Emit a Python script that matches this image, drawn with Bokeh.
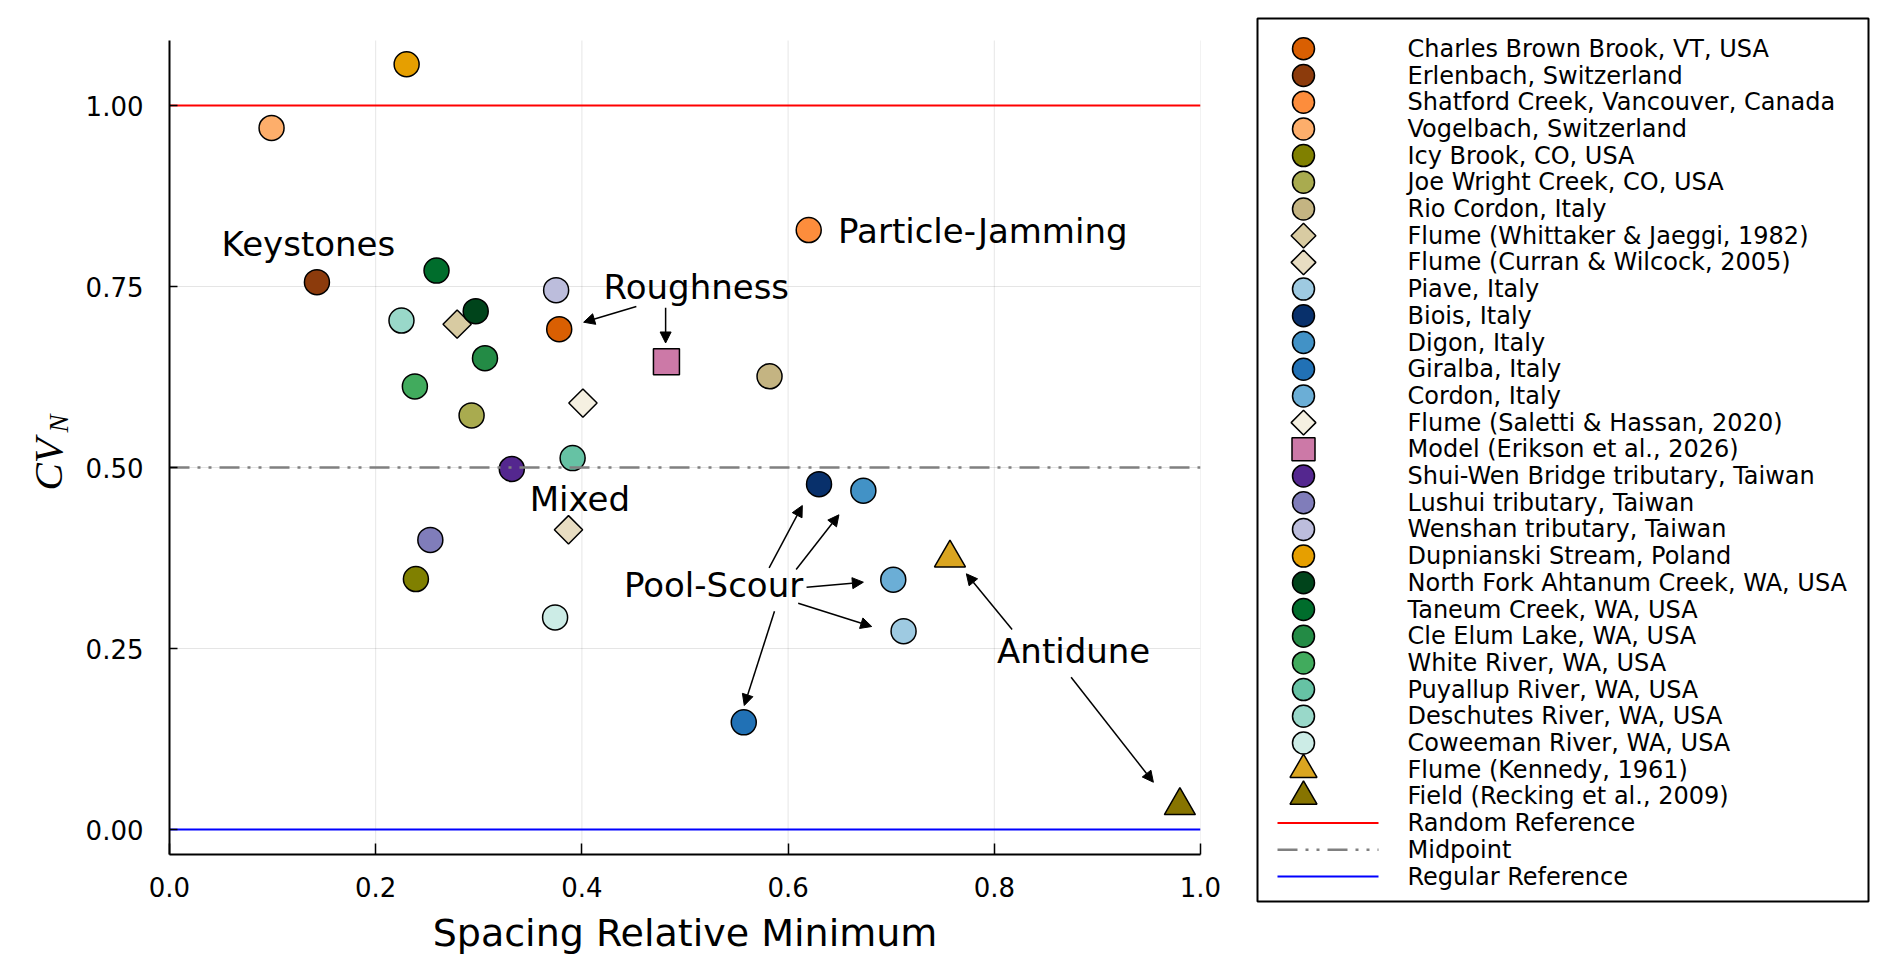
import numpy as np
from bokeh.plotting import figure
from bokeh.layouts import row
from bokeh.models import (Range1d, FixedTicker, Arrow, NormalHead,
                          ColumnDataSource)
from bokeh.embed import file_html
from bokeh.resources import INLINE
from bokeh.core.properties import value

# ---------------- data ----------------
series_names = [
    "Charles Brown Brook, VT, USA", "Erlenbach, Switzerland",
    "Shatford Creek, Vancouver, Canada", "Vogelbach, Switzerland",
    "Icy Brook, CO, USA", "Joe Wright Creek, CO, USA", "Rio Cordon, Italy",
    "Flume (Whittaker & Jaeggi, 1982)", "Flume (Curran & Wilcock, 2005)",
    "Piave, Italy", "Biois, Italy", "Digon, Italy", "Giralba, Italy",
    "Cordon, Italy", "Flume (Saletti & Hassan, 2020)",
    "Model (Erikson et al., 2026)", "Shui-Wen Bridge tributary, Taiwan",
    "Lushui tributary, Taiwan", "Wenshan tributary, Taiwan",
    "Dupnianski Stream, Poland", "North Fork Ahtanum Creek, WA, USA",
    "Taneum Creek, WA, USA", "Cle Elum Lake, WA, USA", "White River, WA, USA",
    "Puyallup River, WA, USA", "Deschutes River, WA, USA",
    "Coweeman River, WA, USA", "Flume (Kennedy, 1961)",
    "Field (Recking et al., 2009)",
]
series_x = [0.378, 0.143, 0.620, 0.099, 0.239, 0.293, 0.582, 0.279, 0.387,
            0.712, 0.630, 0.673, 0.557, 0.702, 0.401, 0.482, 0.332, 0.253,
            0.375, 0.230, 0.297, 0.259, 0.306, 0.238, 0.391, 0.225, 0.374,
            0.757, 0.980]
series_y = [0.691, 0.756, 0.828, 0.969, 0.346, 0.572, 0.626, 0.698, 0.414,
            0.274, 0.477, 0.468, 0.148, 0.345, 0.589, 0.646, 0.498, 0.400,
            0.745, 1.057, 0.716, 0.772, 0.651, 0.612, 0.513, 0.703, 0.293,
            0.375, 0.033]
series_marker = ["circle"] * 7 + ["diamond", "diamond"] + ["circle"] * 5 + \
    ["diamond", "square"] + ["circle"] * 11 + ["triangle", "triangle"]
series_color = [
    "#D95F02", "#8C3B0C", "#FD8D3C", "#FDAE6B", "#808000", "#A9AB4F",
    "#C4B482", "#D8CBA2", "#E8DDC2", "#9ECAE1", "#08306B", "#4292C6",
    "#2171B5", "#6BAED6", "#F5F0E1", "#CC79A7", "#54278F", "#807DBA",
    "#BCBDDC", "#E69F00", "#00441B", "#006D2C", "#238B45", "#41AB5D",
    "#66C2A4", "#99D8C9", "#CCECE6", "#DAA520", "#877400",
]

ref_names = ["Random Reference", "Midpoint", "Regular Reference"]
ref_values = [1.0, 0.5, 0.0]
ref_colors = ["#FF0000", "#808080", "#0000FF"]
ref_dash = ["solid", "20 8 3 8 3 8", "solid"]
ref_widths = [2, 2.5, 2]

ann_text = ["Keystones", "Roughness", "Particle-Jamming", "Mixed",
            "Pool-Scour", "Antidune"]
ann_x = [0.1347, 0.511, 0.6485, 0.398, 0.5277, 0.877]
ann_y = [0.809, 0.749, 0.827, 0.457, 0.338, 0.247]
ann_align = ["center", "center", "left", "center", "center", "center"]

arrow_x0 = [0.4528, 0.4812, 0.5816, 0.6078, 0.6179, 0.6098, 0.5868, 0.8173, 0.8745]
arrow_y0 = [0.7224, 0.7206, 0.3614, 0.3591, 0.3347, 0.3126, 0.3015, 0.2762, 0.2104]
arrow_x1 = [0.4017, 0.4812, 0.6138, 0.6493, 0.6730, 0.6811, 0.5575, 0.7729, 0.9543]
arrow_y1 = [0.7007, 0.6720, 0.4475, 0.4347, 0.3416, 0.2804, 0.1713, 0.3532, 0.0653]

x_ticks = [0.0, 0.2, 0.4, 0.6, 0.8, 1.0]
x_tick_labels = ["0.0", "0.2", "0.4", "0.6", "0.8", "1.0"]
y_ticks = [0.0, 0.25, 0.5, 0.75, 1.0]
y_tick_labels = ["0.00", "0.25", "0.50", "0.75", "1.00"]

x_min, x_max = 0.0, 1.0
y_min, y_max = -0.0345, 1.0898

x_label = "Spacing Relative Minimum"
y_label_main, y_label_sub = "CV", "N"

FONT = "DejaVu Sans"

# ---------------- page layout (pixels) ----------------
TOP = 18            # common top border of all panels (legend box top)
AX_TOP = 40         # top of the axes area
AX_BOTTOM = 854     # x-axis position
BOTTOM_BORDER = 112
ylab_w = 80
frame_h = AX_BOTTOM - TOP
px_per_unit = (AX_BOTTOM - AX_TOP) / (y_max - y_min)
y_range_top = y_max + (AX_TOP - TOP) / px_per_unit

# marker styles (plot and legend sizes)
marker_kind = {"circle": ("circle", 0.0), "diamond": ("square", np.pi / 4),
               "square": ("square", 0.0), "triangle": ("triangle", 0.0)}
plot_size = {"circle": 25, "diamond": 20, "square": 26, "triangle": 31}
leg_size = {"circle": 22, "diamond": 17.5, "square": 23, "triangle": 27}


def blank(fig):
    fig.axis.visible = False
    fig.grid.visible = False
    fig.outline_line_color = None
    fig.background_fill_color = "white"
    fig.border_fill_color = "white"


# ---------------- y-label strip ----------------
yl = figure(output_backend="svg", toolbar_location=None, title=None,
            frame_width=ylab_w, frame_height=frame_h,
            min_border_left=0, min_border_right=0,
            min_border_top=TOP, min_border_bottom=BOTTOM_BORDER,
            x_range=Range1d(0, ylab_w), y_range=Range1d(0, frame_h))
blank(yl)
yl.text(x=[47], y=[AX_BOTTOM - 490], text=[y_label_main], angle=np.pi / 2,
        text_font=value("Liberation Serif"), text_font_style="italic",
        text_font_size="41px", text_baseline="alphabetic", text_align="left",
        text_color="black")
yl.text(x=[58], y=[AX_BOTTOM - 432], text=[y_label_sub], angle=np.pi / 2,
        text_font=value("Liberation Serif"), text_font_style="italic",
        text_font_size="27px", text_baseline="alphabetic", text_align="left",
        text_color="black")

# ---------------- main figure ----------------
p = figure(output_backend="svg", toolbar_location=None, title=None,
           frame_width=1031, frame_height=frame_h,
           min_border_left=169 - ylab_w, min_border_right=1255 - 1200,
           min_border_top=TOP, min_border_bottom=BOTTOM_BORDER,
           x_range=Range1d(x_min, x_max), y_range=Range1d(y_min, y_range_top))
p.outline_line_color = None
p.background_fill_color = "white"
p.border_fill_color = "white"

for ax, ticks, labels in ((p.xaxis[0], x_ticks, x_tick_labels),
                          (p.yaxis[0], y_ticks, y_tick_labels)):
    ax.ticker = FixedTicker(ticks=ticks)
    ax.major_label_overrides = {t: l for t, l in zip(ticks, labels)}
    ax.axis_line_width = 2
    ax.axis_line_color = "black"
    ax.major_tick_out = 0
    ax.major_tick_line_width = 1.5
    ax.major_tick_line_color = "black"
    ax.minor_tick_line_color = None
    ax.major_label_text_font = FONT
    ax.major_label_text_font_size = "26px"
    ax.major_label_text_color = "black"

p.yaxis.bounds = (y_min, y_max)
p.xaxis.major_tick_in = 11
p.yaxis.major_tick_in = 8
p.xaxis.major_label_standoff = 22
p.yaxis.major_label_standoff = 26
p.xaxis.axis_label = x_label
p.xaxis.axis_label_text_font = FONT
p.xaxis.axis_label_text_font_size = "38px"
p.xaxis.axis_label_text_font_style = "normal"
p.xaxis.axis_label_text_color = "black"
p.xaxis.axis_label_standoff = 11

p.xgrid.visible = False
p.ygrid.ticker = FixedTicker(ticks=y_ticks)
p.ygrid.grid_line_color = "black"
p.ygrid.grid_line_alpha = 0.1
p.ygrid.grid_line_width = 1
# vertical grid lines limited to the axes area
p.segment(x0=x_ticks, y0=[y_min] * len(x_ticks), x1=x_ticks,
          y1=[y_max] * len(x_ticks), line_color="black", line_alpha=0.1,
          line_width=1)

for name, xv, yv, mk, col in zip(series_names, series_x, series_y,
                                 series_marker, series_color):
    m, ang = marker_kind[mk]
    p.scatter(x=[xv], y=[yv], marker=m, angle=ang, size=plot_size[mk],
              fill_color=col, line_color="black", line_width=1.5)

for val, col, dash, w in zip(ref_values, ref_colors, ref_dash, ref_widths):
    p.line(x=[x_min, x_max], y=[val, val], line_color=col, line_dash=dash,
           line_width=w)

arrow_src = ColumnDataSource(dict(x0=arrow_x0, y0=arrow_y0, x1=arrow_x1, y1=arrow_y1))
p.add_layout(Arrow(end=NormalHead(size=11, fill_color="black", line_color="black",
                                  line_width=1),
                   x_start="x0", y_start="y0", x_end="x1", y_end="y1",
                   source=arrow_src, line_width=1.5, line_color="black"))

ann_src = ColumnDataSource(dict(x=ann_x, y=ann_y, text=ann_text, align=ann_align))
p.text(x="x", y="y", text="text", text_align="align", text_baseline="middle",
       text_font=value(FONT), text_font_size="34px", text_color="black",
       source=ann_src)

# ---------------- legend figure ----------------
leg_w, leg_h = 611, 883
row_top, row_step = 30.3, 26.7
marker_cx = 46
line_x0, line_x1 = 20, 121
text_x = 150

lg = figure(output_backend="svg", toolbar_location=None, title=None,
            frame_width=leg_w, frame_height=leg_h,
            min_border_left=2, min_border_right=4,
            min_border_top=TOP, min_border_bottom=BOTTOM_BORDER - (leg_h - frame_h),
            x_range=Range1d(0, leg_w), y_range=Range1d(leg_h, 0))
blank(lg)
lg.outline_line_color = "black"
lg.outline_line_width = 2

all_names = series_names + ref_names
row_y = [row_top + row_step * i for i in range(len(all_names))]

for i, (mk, col) in enumerate(zip(series_marker, series_color)):
    m, ang = marker_kind[mk]
    lg.scatter(x=[marker_cx], y=[row_y[i]], marker=m, angle=ang,
               size=leg_size[mk], fill_color=col, line_color="black",
               line_width=1.5)

for j, (col, dash, w) in enumerate(zip(ref_colors, ref_dash, ref_widths)):
    yy = row_y[len(series_names) + j]
    lg.line(x=[line_x0, line_x1], y=[yy, yy], line_color=col, line_dash=dash,
            line_width=w)

lg.text(x=[text_x] * len(all_names), y=row_y, text=all_names,
        text_align="left", text_baseline="middle", text_font=value(FONT),
        text_font_size="24px", text_color="black")

layout = row(yl, p, lg, spacing=0)

open("out.html", "w").write(file_html(layout, INLINE))
